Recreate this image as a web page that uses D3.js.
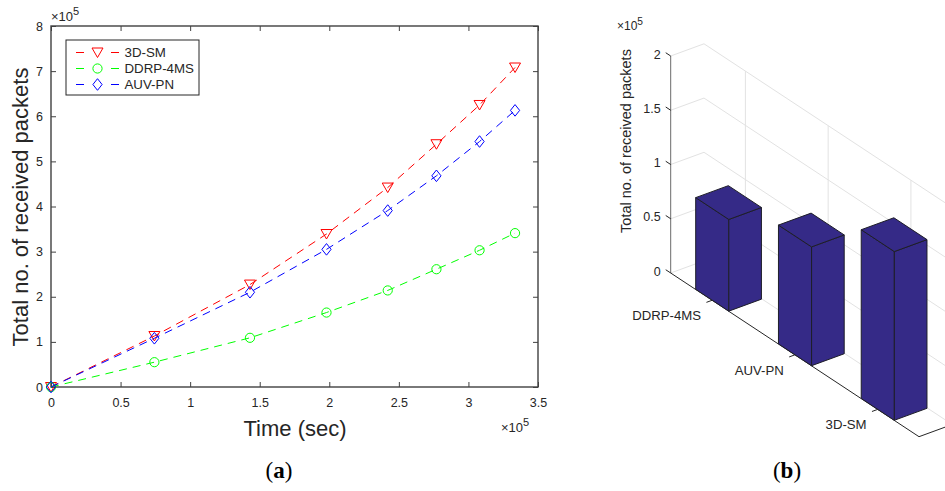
<!DOCTYPE html>
<meta charset="utf-8">
<style>
body { margin: 0; background: #fff; }
text { font-family: "Liberation Sans", Arial, sans-serif; fill: #262626; }
.caption { font-family: "Liberation Serif", "DejaVu Serif", serif; fill: #000; }
</style>
<svg width="945" height="491"></svg>
<script src="https://cdn.jsdelivr.net/npm/d3@7"></script>
<script>

// ---- data (a): received packets vs time, both in units of 1e5
var timeX  = [0, 0.743, 1.43, 1.98, 2.42, 2.77, 3.08, 3.335];
var sm3d   = [0, 1.13, 2.27, 3.39, 4.42, 5.38, 6.25, 7.08];
var ddrp   = [0, 0.55, 1.09, 1.65, 2.14, 2.61, 3.03, 3.41];
var auvpn  = [0, 1.08, 2.10, 3.05, 3.91, 4.68, 5.44, 6.13];
var xTicks = [0, 0.5, 1, 1.5, 2, 2.5, 3, 3.5];
var yTicks = [0, 1, 2, 3, 4, 5, 6, 7, 8];

// ---- data (b): totals per protocol (1e5)
var barCats = ["DDRP-4MS", "AUV-PN", "3D-SM"];
var barVals = [0.845, 1.095, 1.555];
var zTicks  = [0, 0.5, 1, 1.5, 2];

var svg = d3.select("svg");
var axisCol = "#404040";

// ================= chart (a) =================
var x = d3.scaleLinear().domain([0, 3.5]).range([51, 538]);
var y = d3.scaleLinear().domain([0, 8]).range([387, 26]);

var ga = svg.append("g");

function styleAxis(g, labels) {
  g.select(".domain").remove();
  g.selectAll(".tick line").attr("stroke", axisCol).attr("stroke-width", 1);
  g.selectAll(".tick text").style("font-size", "12.5px").attr("fill", "#262626");
  if (!labels) g.selectAll(".tick text").remove();
}

ga.append("g").attr("transform", "translate(0," + y(0) + ")")
  .call(d3.axisBottom(x).tickValues(xTicks).tickFormat(function (d) { return d; })
    .tickSizeInner(-5).tickSizeOuter(0).tickPadding(11))
  .call(styleAxis, true);
ga.append("g").attr("transform", "translate(0," + y(8) + ")")
  .call(d3.axisTop(x).tickValues(xTicks).tickSizeInner(-5).tickSizeOuter(0))
  .call(styleAxis, false);
ga.append("g").attr("transform", "translate(" + x(0) + ",0)")
  .call(d3.axisLeft(y).tickValues(yTicks).tickFormat(function (d) { return d; })
    .tickSizeInner(-5).tickSizeOuter(0).tickPadding(8))
  .call(styleAxis, true);
ga.append("g").attr("transform", "translate(" + x(3.5) + ",0)")
  .call(d3.axisRight(y).tickValues(yTicks).tickSizeInner(-5).tickSizeOuter(0))
  .call(styleAxis, false);

ga.append("rect")
  .attr("x", x(0)).attr("y", y(8))
  .attr("width", x(3.5) - x(0)).attr("height", y(0) - y(8))
  .attr("fill", "none").attr("stroke", axisCol).attr("stroke-width", 1.4);

var series = [
  { name: "3D-SM",    vals: sm3d,  color: "#ff0000", marker: "tri" },
  { name: "DDRP-4MS", vals: ddrp,  color: "#00ff00", marker: "circle" },
  { name: "AUV-PN",   vals: auvpn, color: "#0000ff", marker: "diamond" }
];

function drawMarker(g, type, color, cx, cy) {
  if (type === "tri") {
    g.append("path").attr("d", "M" + (cx - 5.5) + "," + (cy - 4.5) + "L" + (cx + 5.5) + "," + (cy - 4.5) +
      "L" + cx + "," + (cy + 5) + "Z")
      .attr("fill", "none").attr("stroke", color).attr("stroke-width", 1);
  } else if (type === "circle") {
    g.append("circle").attr("cx", cx).attr("cy", cy).attr("r", 4.6)
      .attr("fill", "none").attr("stroke", color).attr("stroke-width", 1);
  } else {
    g.append("path").attr("d", "M" + cx + "," + (cy - 5.8) + "L" + (cx + 4.6) + "," + cy +
      "L" + cx + "," + (cy + 5.8) + "L" + (cx - 4.6) + "," + cy + "Z")
      .attr("fill", "none").attr("stroke", color).attr("stroke-width", 1);
  }
}

var line = d3.line().x(function (d) { return x(d[0]); }).y(function (d) { return y(d[1]); });

series.forEach(function (s) {
  var pts = timeX.map(function (t, i) { return [t, s.vals[i]]; });
  ga.append("path").datum(pts).attr("d", line)
    .attr("fill", "none").attr("stroke", s.color).attr("stroke-width", 1)
    .attr("stroke-dasharray", "8,6");
  pts.forEach(function (p) { drawMarker(ga, s.marker, s.color, x(p[0]), y(p[1])); });
});

// legend
var lg = ga.append("g").attr("transform", "translate(66,40)");
lg.append("rect").attr("width", 133).attr("height", 55)
  .attr("fill", "#fff").attr("stroke", "#262626").attr("stroke-width", 1);
series.forEach(function (s, i) {
  var ly = 12.5 + i * 16;
  lg.append("line").attr("x1", 10).attr("x2", 53).attr("y1", ly).attr("y2", ly)
    .attr("stroke", s.color).attr("stroke-dasharray", "8,27");
  drawMarker(lg, s.marker, s.color, 31.5, ly);
  lg.append("text").attr("x", 58.5).attr("y", ly).attr("dy", "0.36em")
    .style("font-size", "13.3px").text(s.name);
});

// labels
ga.append("text").attr("transform", "translate(28," + 207 + ") rotate(-90)")
  .attr("text-anchor", "middle").style("font-size", "22px").text("Total no. of received packets");
ga.append("text").attr("x", 295).attr("y", 436).attr("text-anchor", "middle")
  .style("font-size", "22px").text("Time (sec)");

function times10(g, xx, yy, size) {
  var t = g.append("text").attr("x", xx).attr("y", yy).style("font-size", size + "px");
  t.append("tspan").text("\u00d710");
  t.append("tspan").attr("dy", -size * 0.45).style("font-size", (size * 0.85) + "px").text("5");
}
times10(ga, 51, 21, 13);
times10(ga, 501, 432, 13);

// ================= chart (b): 3D bars =================
// projection: category c (0.5..3.5), depth d (0..1), value z (1e5)
var O = [670.7, 273];
var cx1 = d3.scaleLinear().domain([0.5, 3.5]).range([0, 248.3]);
var cy1 = d3.scaleLinear().domain([0.5, 3.5]).range([0, 163.7]);
var dx1 = d3.scaleLinear().domain([0, 1]).range([0, 33.3]);
var dy1 = d3.scaleLinear().domain([0, 1]).range([0, -12.2]);
var zS  = d3.scaleLinear().domain([0, 2]).range([0, -217]);

function P(c, d, z) {
  return [O[0] + cx1(c) + dx1(d), O[1] + cy1(c) + dy1(d) + zS(z)];
}
function pathOf(pts) { return "M" + pts.map(function (p) { return p.join(","); }).join("L") + "Z"; }
function seg(g, a, b, col, w) {
  g.append("line").attr("x1", a[0]).attr("y1", a[1]).attr("x2", b[0]).attr("y2", b[1])
    .attr("stroke", col).attr("stroke-width", w || 1);
}

var gb = svg.append("g");
var gridCol = "#e2e2e2";

// grid
zTicks.forEach(function (z) {
  seg(gb, P(0.5, 0, z), P(0.5, 1, z), gridCol);
  seg(gb, P(0.5, 1, z), P(3.5, 1, z), gridCol);
});
[1, 2, 3].forEach(function (c) {
  seg(gb, P(c, 1, 0), P(c, 1, 2), gridCol);
  seg(gb, P(c, 0, 0), P(c, 1, 0), gridCol);
});

// axes
seg(gb, P(0.5, 0, 0), P(0.5, 0, 2), "#6b6b6b", 1);
seg(gb, P(0.5, 0, 0), P(3.5, 0, 0), "#262626", 1);
seg(gb, P(3.5, 0, 0), P(3.5, 1, 0), "#262626", 1);

zTicks.forEach(function (z) {
  seg(gb, P(0.5, 0, z), P(0.44, 0, z), "#262626", 1);
  var p = P(0.5, 0, z);
  gb.append("text").attr("x", p[0] - 10).attr("y", p[1] - 2).attr("dy", "0.36em")
    .attr("text-anchor", "end").style("font-size", "12.5px").text(z);
});
barCats.forEach(function (name, i) {
  var c = i + 1;
  var p = P(c, 0, 0);
  seg(gb, p, P(c, -0.17, 0), "#262626", 1);
  gb.append("text").attr("x", p[0] - 11).attr("y", p[1] + 15).attr("dy", "0.36em")
    .attr("text-anchor", "end").style("font-size", "13.2px").text(name);
});

// bars
var barCol = "#352a87", edgeCol = "#1e1e28";
barVals.forEach(function (v, i) {
  var c0 = i + 1 - 0.2, c1 = i + 1 + 0.2, d0 = 0.005, d1 = 0.985;
  var faces = [
    [P(c0, d0, 0), P(c1, d0, 0), P(c1, d0, v), P(c0, d0, v)],
    [P(c1, d0, 0), P(c1, d1, 0), P(c1, d1, v), P(c1, d0, v)],
    [P(c0, d0, v), P(c1, d0, v), P(c1, d1, v), P(c0, d1, v)]
  ];
  faces.forEach(function (f) {
    gb.append("path").attr("d", pathOf(f)).attr("fill", barCol)
      .attr("stroke", edgeCol).attr("stroke-width", 1).attr("stroke-linejoin", "round");
  });
});

gb.append("text").attr("transform", "translate(631,141) rotate(-90)")
  .attr("text-anchor", "middle").style("font-size", "14.5px").text("Total no. of received packets");
times10(gb, 617, 30, 12);

// captions
function caption(xx, letter) {
  var t = svg.append("text").attr("class", "caption").attr("x", xx).attr("y", 478)
    .attr("text-anchor", "middle").style("font-size", "23px");
  t.append("tspan").text("(");
  t.append("tspan").style("font-weight", "bold").text(letter);
  t.append("tspan").text(")");
}
caption(279, "a");
caption(787, "b");

</script>
